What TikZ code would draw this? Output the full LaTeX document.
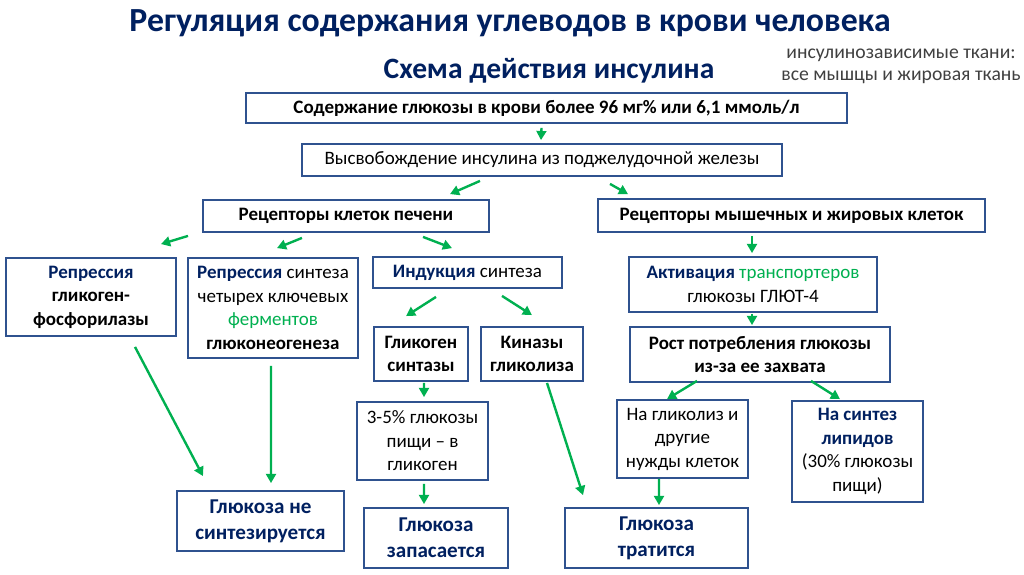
\documentclass[tikz,border=0pt]{standalone}
\usepackage{fontspec}
\setmainfont{Carlito}
\usepackage{tikz}
\usetikzlibrary{arrows.meta, calc}

\definecolor{navy}{RGB}{0,32,96}
\definecolor{grn}{RGB}{0,176,80}
\definecolor{boxc}{RGB}{47,82,143}
\definecolor{notegray}{RGB}{64,64,64}

\tikzset{
  box/.style={draw=boxc, line width=1.3pt, align=center, inner sep=0pt,
    font=\fontsize{13.5}{16.7}\selectfont},
  sz/.style 2 args={minimum width=#1*0.025cm, minimum height=#2*0.025cm},
  arr/.style={draw=grn, line width=1.7pt, -{Triangle[length=6.5pt,width=7pt]}},
}

\begin{document}
\begin{tikzpicture}[x=0.025cm, y=-0.025cm]
  \useasboundingbox (0,0) rectangle (1024,574);
  \fill[white] (0,0) rectangle (1024,574);

  % headings
  \node[font=\fontsize{24}{28}\selectfont\bfseries, text=navy] (title) at (510,23) {Регуляция содержания углеводов в крови человека};
  \node[font=\fontsize{21}{25}\selectfont\bfseries, text=navy] (sub) at (549,71) {Схема действия инсулина};
  \node[align=center, text=notegray, font=\fontsize{14}{15.6}\selectfont] (note) at (901,66) {инсулинозависимые ткани:\\все мышцы и жировая ткань};

  % boxes
  \node[box, sz={601}{30}, font=\fontsize{13.5}{16.7}\selectfont\bfseries] (b1) at (546.5,108) {Содержание глюкозы в крови более 96 мг\% или 6,1 ммоль/л};
  \node[box, sz={480}{32}] (b2) at (542,160) {Высвобождение инсулина из поджелудочной железы};
  \node[box, sz={286}{32}, font=\fontsize{13.5}{16.7}\selectfont\bfseries] (b3) at (346,216) {Рецепторы клеток печени};
  \node[box, sz={387}{33}, font=\fontsize{13.5}{16.7}\selectfont\bfseries] (b4) at (791.5,215.5) {Рецепторы мышечных и жировых клеток};
  \node[box, sz={170}{78}, font=\fontsize{13.5}{16.7}\selectfont\bfseries] (b5) at (91,297) {{\color{navy}Репрессия}\\гликоген-\\фосфорилазы};
  \node[box, sz={170}{100}] (b6) at (273,308) {{\bfseries\color{navy}Репрессия} синтеза\\четырех ключевых\\{\color{grn}ферментов}\\{\bfseries глюконеогенеза}};
  \node[box, sz={189}{31}] (b7) at (467.5,272.5) {{\bfseries\color{navy}Индукция} синтеза};
  \node[box, sz={94}{54}, font=\fontsize{13.5}{16.7}\selectfont\bfseries] (b8) at (421,354) {Гликоген\\синтазы};
  \node[box, sz={102}{54}, font=\fontsize{13.5}{16.7}\selectfont\bfseries] (b9) at (532,354) {Киназы\\гликолиза};
  \node[box, sz={248}{55}] (b10) at (753,284.5) {{\bfseries\color{navy}Активация} {\color{grn}транспортеров}\\глюкозы ГЛЮТ-4};
  \node[box, sz={260}{55}, font=\fontsize{13.5}{16.7}\selectfont\bfseries] (b11) at (760,354.5) {Рост потребления глюкозы\\из-за ее захвата};
  \node[box, sz={131}{78}] (b12) at (422.5,441) {3-5\% глюкозы\\пищи – в\\гликоген};
  \node[box, sz={167}{60}, text=navy, font=\fontsize{15}{18.5}\selectfont\bfseries] (b13) at (260.5,521) {Глюкоза не\\синтезируется};
  \node[box, sz={144}{60}, text=navy, font=\fontsize{15}{18.5}\selectfont\bfseries] (b14) at (436,538) {Глюкоза\\запасается};
  \node[box, sz={131}{78}] (b15) at (682.5,439) {На гликолиз и\\другие\\нужды клеток};
  \node[box, sz={131}{101}] (b16) at (857.5,451.5) {{\bfseries\color{navy}На синтез}\\{\bfseries\color{navy}липидов}\\(30\% глюкозы\\пищи)};
  \node[box, sz={183}{60}, text=navy, font=\fontsize{15}{18.5}\selectfont\bfseries] (b17) at (656.5,538) {Глюкоза\\тратится};

  % arrows
  \draw[arr] ($(b1.south)+(-5,4)$) -- ($(b2.north)+(-1,-3)$);
  \draw[arr] ($(b2.south)+(-62,4)$) -- ($(b3.north)+(104,-5)$);
  \draw[arr] ($(b2.south)+(68,7)$) -- ($(b4.north)+(-163.5,-4)$);
  \draw[arr] ($(b3.south)+(-158,3)$) -- ($(b5.north)+(70,-13)$);
  \draw[arr] ($(b3.south)+(-44,5)$) -- ($(b6.north)+(4,-9)$);
  \draw[arr] ($(b3.south)+(77,4)$) -- ($(b7.north)+(-15.5,-8)$);
  \draw[arr] ($(b4.south)+(-39.5,3)$) -- ($(b10.north)+(-1,-3)$);
  \draw[arr] ($(b7.south)+(-31.5,8)$) -- ($(b8.north)+(-15,-10)$);
  \draw[arr] ($(b7.south)+(34.5,7)$) -- ($(b9.north)+(0,-11)$);
  \draw[arr] ($(b10.south)+(-1,1)$) -- ($(b11.north)+(-8,-1)$);
  \draw[arr] ($(b11.south)+(-63,-2)$) -- ($(b15.north)+(-15.5,0)$);
  \draw[arr] ($(b11.south)+(51,-2)$) -- ($(b16.north)+(-17.5,-1)$);
  \draw[arr] ($(b5.south)+(44,10)$) -- ($(b13.north)+(-57.5,-14)$);
  \draw[arr] ($(b6.south)+(-2,7)$) -- ($(b13.north)+(10.5,-7)$);
  \draw[arr] ($(b8.south)+(3,1)$) -- ($(b12.north)+(1.5,-4)$);
  \draw[arr] ($(b12.south)+(1.5,3)$) -- ($(b14.north)+(-12,-3)$);
  \draw[arr] ($(b9.south)+(15,1)$) -- ($(b17.north)+(-73.5,-12)$);
  \draw[arr] ($(b15.south)+(-23.5,0)$) -- ($(b17.north)+(2.5,-2)$);
\end{tikzpicture}
\end{document}
